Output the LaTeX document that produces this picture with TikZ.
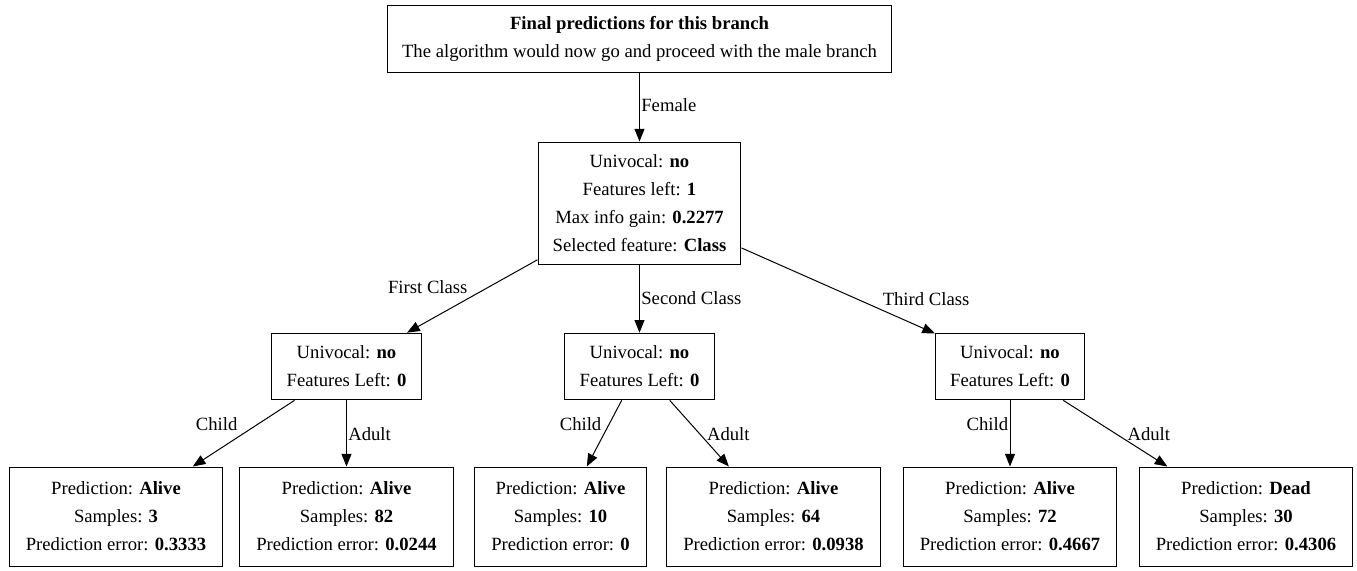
\documentclass[tikz,border=0pt]{standalone}
\usepackage{fontspec}
\setmainfont{Liberation Serif}
\usetikzlibrary{arrows.meta}
\tikzset{
    mybox/.style = {rectangle, draw=black, line width=0.75pt, align=center, inner xsep=11pt, inner ysep=0pt, font=\fontsize{14}{21}\selectfont, text=black},
    myboxt/.style = {mybox, minimum height=50pt},
    myboxf/.style = {mybox, minimum height=91.5pt},
    myleaf/.style = {mybox, inner xsep=12.5pt, minimum height=74.25pt},
    edgen/.style = {-{Triangle[length=9.5pt,width=7.5pt]}, line width=0.75pt, black},
    edgel/.style = {inner sep=1pt, font=\fontsize{14}{16}\selectfont, text=black}
}

\begin{document}
\begin{tikzpicture}[x=0.75pt,y=-0.75pt]
\useasboundingbox (0,0) rectangle (1357,571);

\node[myboxt] at ( 639.5,  39.0) (root) {\textbf{Final predictions for this branch}\\The algorithm would now go and proceed with the male branch};
\node[myboxf] at ( 639.5, 203.0) (split) {Univocal: \textbf{no}\\Features left: \textbf{1}\\Max info gain: \textbf{0.2277}\\Selected feature: \textbf{Class}};

\node[myboxt] at ( 346.5, 366.5) (first) {Univocal: \textbf{no}\\Features Left: \textbf{0}};
\node[myboxt] at ( 639.5, 366.5) (second) {Univocal: \textbf{no}\\Features Left: \textbf{0}};
\node[myboxt] at (1010.0, 366.5) (third) {Univocal: \textbf{no}\\Features Left: \textbf{0}};

\node[myleaf] at ( 116.0, 516.5) (fc) {Prediction: \textbf{Alive}\\Samples: \textbf{3}\\Prediction error: \textbf{0.3333}};
\node[myleaf] at ( 346.5, 516.5) (fa) {Prediction: \textbf{Alive}\\Samples: \textbf{82}\\Prediction error: \textbf{0.0244}};
\node[myleaf] at ( 560.5, 516.5) (sc) {Prediction: \textbf{Alive}\\Samples: \textbf{10}\\Prediction error: \textbf{0}};
\node[myleaf] at ( 773.5, 516.5) (sa) {Prediction: \textbf{Alive}\\Samples: \textbf{64}\\Prediction error: \textbf{0.0938}};
\node[myleaf] at (1010.0, 516.5) (tc) {Prediction: \textbf{Alive}\\Samples: \textbf{72}\\Prediction error: \textbf{0.4667}};
\node[myleaf] at (1246.0, 516.5) (ta) {Prediction: \textbf{Dead}\\Samples: \textbf{30}\\Prediction error: \textbf{0.4306}};

\draw[edgen] (root) -- node[edgel, pos=0.47, right=0pt] {Female} (split);
\draw[edgen] (split) -- node[edgel, pos=0.38, left=14pt] {First Class} (first);
\draw[edgen] (split) -- node[edgel, pos=0.49, right=0pt] {Second Class} (second);
\draw[edgen] (split) -- node[edgel, pos=0.60, right=17.5pt] {Third Class} (third);
\draw[edgen] (first) -- node[edgel, pos=0.36, left=14pt] {Child} (fc);
\draw[edgen] (first) -- node[edgel, pos=0.51, right=0pt] {Adult} (fa);
\draw[edgen] (second) -- node[edgel, pos=0.36, left=4.5pt] {Child} (sc);
\draw[edgen] (second) -- node[edgel, pos=0.51, right=4pt] {Adult} (sa);
\draw[edgen] (third) -- node[edgel, pos=0.36, left=0pt] {Child} (tc);
\draw[edgen] (third) -- node[edgel, pos=0.51, right=7pt] {Adult} (ta);

\end{tikzpicture}
\end{document}
